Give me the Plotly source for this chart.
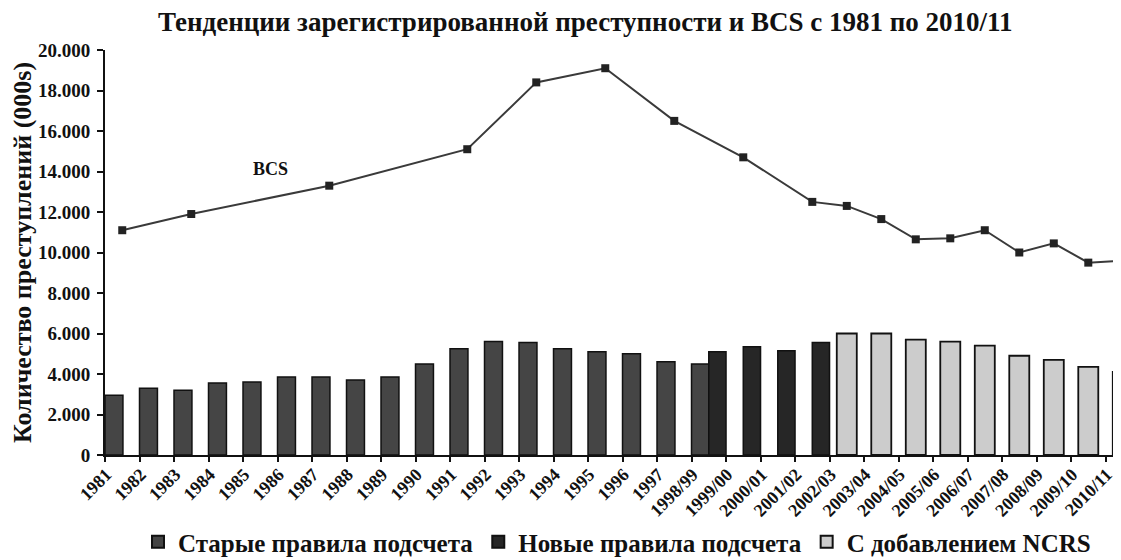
import plotly.graph_objects as go

categories = ["1981", "1982", "1983", "1984", "1985", "1986", "1987", "1988", "1989",
              "1990", "1991", "1992", "1993", "1994", "1995", "1996", "1997",
              "1998/99", "1999/00", "2000/01", "2001/02", "2002/03", "2003/04",
              "2004/05", "2005/06", "2006/07", "2007/08", "2008/09", "2009/10", "2010/11"]

old_rules = [2950, 3300, 3200, 3550, 3600, 3850, 3850, 3700, 3850,
             4500, 5250, 5600, 5550, 5250, 5100, 5000, 4600,
             4500, None, None, None, None, None, None, None, None, None, None, None, None]

new_rules = [None] * 17 + [5100, 5350, 5150, 5550] + [None] * 9

ncrs = [None] * 21 + [6000, 6000, 5700, 5600, 5400, 4900, 4700, 4350, 4100]

bcs = [11100, None, 11900, None, None, None, 13300, None, None,
       None, 15100, None, 18400, None, 19100, None, 16500,
       None, 14700, None, 12500, 12300, 11650,
       10650, 10700, 11100, 10000, 10450, 9500, 9600]

series_names = ["Старые правила подсчета", "Новые правила подсчета", "С добавлением NCRS"]
title_text = "Тенденции зарегистрированной преступности и BCS с 1981 по 2010/11"
y_title = "Количество преступлений (000s)"
line_label = "BCS"

FONT = "Liberation Serif"

fig = go.Figure()

fig.add_trace(go.Bar(
    x=categories, y=old_rules, name="<b>" + series_names[0] + "</b>",
    marker=dict(color="#454545", line=dict(color="#111111", width=1.5)),
    width=0.52, offset=-0.5,
))
fig.add_trace(go.Bar(
    x=categories, y=new_rules, name="<b>" + series_names[1] + "</b>",
    marker=dict(color="#262626", line=dict(color="#111111", width=1.5)),
    width=0.5, offset=0.0,
))
fig.add_trace(go.Bar(
    x=categories, y=ncrs, name="<b>" + series_names[2] + "</b>",
    marker=dict(color="#cccccc", line=dict(color="#111111", width=1.8)),
    width=0.58, offset=-0.29,
))
fig.add_trace(go.Scatter(
    x=categories, y=bcs, name="BCS", mode="lines+markers",
    connectgaps=True, showlegend=False, cliponaxis=False,
    line=dict(color="#3a3a3a", width=2),
    marker=dict(symbol="square", size=8, color="#222222"),
))

fig.add_annotation(
    x=0.143, xref="paper", y=14100, yref="y", text="<b>" + line_label + "</b>",
    showarrow=False, font=dict(family=FONT, size=18, color="#111111"),
)

fig.update_layout(
    width=1121, height=560,
    margin=dict(l=97, r=0, t=42, b=113),
    paper_bgcolor="white", plot_bgcolor="white",
    separators=",.",
    barmode="overlay",
    title=dict(text="<b>" + title_text + "</b>", x=0.515, xanchor="center",
               y=0.976, yanchor="middle", yref="container",
               font=dict(family=FONT, size=27, color="#111111")),
    font=dict(family=FONT, color="#111111"),
    legend=dict(orientation="h", x=0.5, xanchor="center", y=-0.215, yanchor="middle",
                font=dict(family=FONT, size=25, color="#111111"),
                itemsizing="constant", traceorder="normal"),
    showlegend=True,
)

fig.update_xaxes(
    type="category", range=[-0.5, 29.18],
    tickangle=-45, tickson="boundaries",
    ticks="outside", ticklen=5, tickwidth=1.5, tickcolor="#111111",
    showline=True, linecolor="#111111", linewidth=2,
    showgrid=False,
    tickfont=dict(family=FONT, size=18, color="#111111"),
    tickprefix="<b>", ticksuffix="</b>",
    ticklabelshift=-16,
)
fig.update_yaxes(
    range=[0, 20000], dtick=2000, tickformat=",d",
    ticks="outside", ticklen=6, tickwidth=1.5, tickcolor="#111111",
    showline=True, linecolor="#111111", linewidth=2,
    showgrid=False, zeroline=False,
    tickfont=dict(family=FONT, size=19, color="#111111"),
    tickprefix="<b>", ticksuffix="</b>",
    ticklabelstandoff=3,
    title=dict(text="<b>" + y_title + "</b>", font=dict(family=FONT, size=26, color="#111111"),
               standoff=4),
)

fig.write_html("out.html")
